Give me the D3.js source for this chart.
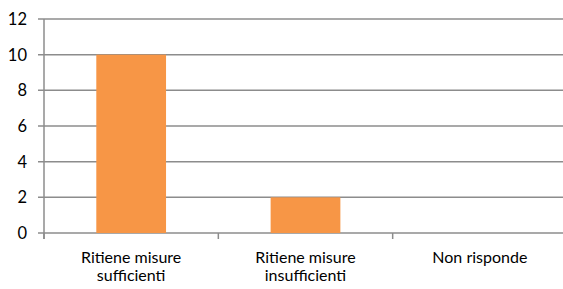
<!DOCTYPE html>
<html>
<head>
<meta charset="utf-8">
<script src="https://cdn.jsdelivr.net/npm/d3@7"></script>
<style>
  body { margin: 0; background: #fff; }
  svg text { font-family: Lato, sans-serif; fill: #000; }
</style>
</head>
<body>
<div id="chart"></div>
<script>
const categories = [["Ritiene misure", "sufficienti"], ["Ritiene misure", "insufficienti"], ["Non risponde"]];
const values = [10, 2, 0];
const yTicks = [0, 2, 4, 6, 8, 10, 12];

const width = 563, height = 289;
const margin = { top: 19, right: -4, bottom: 56, left: 44 };

const svg = d3.select("#chart").append("svg")
  .attr("width", width)
  .attr("height", height);

const x = d3.scaleBand()
  .domain(d3.range(categories.length))
  .range([margin.left, width - margin.right])
  .paddingInner(0.6)
  .paddingOuter(0.3);

const y = d3.scaleLinear()
  .domain([0, 12])
  .range([height - margin.bottom, margin.top]);

// gridlines
svg.append("g")
  .selectAll("line")
  .data(yTicks)
  .join("line")
  .attr("x1", margin.left - 6)
  .attr("x2", width)
  .attr("y1", d => y(d))
  .attr("y2", d => y(d))
  .attr("stroke", "#8c8c8c")
  .attr("stroke-width", 1.5);

// y labels
svg.append("g")
  .selectAll("text")
  .data(yTicks)
  .join("text")
  .attr("x", 27)
  .attr("y", d => y(d))
  .attr("dy", "0.36em")
  .attr("text-anchor", "end")
  .attr("font-size", 16.5)
  .text(d => d);

// bars
svg.append("g")
  .selectAll("rect")
  .data(values)
  .join("rect")
  .attr("x", (d, i) => x(i))
  .attr("width", x.bandwidth())
  .attr("y", d => y(d))
  .attr("height", d => y(0) - y(d))
  .attr("fill", "#f79646");

// y axis line
svg.append("line")
  .attr("x1", margin.left).attr("x2", margin.left)
  .attr("y1", y(12)).attr("y2", y(0) + 6)
  .attr("stroke", "#8c8c8c")
  .attr("stroke-width", 1.5);

// category ticks
const step = x.step();
const tickX = d3.range(categories.length + 1).map(i => margin.left + i * step);
svg.append("g")
  .selectAll("line")
  .data(tickX)
  .join("line")
  .attr("x1", d => d).attr("x2", d => d)
  .attr("y1", y(0)).attr("y2", y(0) + 6)
  .attr("stroke", "#8c8c8c")
  .attr("stroke-width", 1.5);

// category labels
const labels = svg.append("g")
  .selectAll("text")
  .data(categories)
  .join("text")
  .attr("x", (d, i) => x(i) + x.bandwidth() / 2)
  .attr("y", y(0) + 30)
  .attr("text-anchor", "middle")
  .attr("font-size", 16);

labels.selectAll("tspan")
  .data(d => d)
  .join("tspan")
  .attr("x", function () { return d3.select(this.parentNode).attr("x"); })
  .attr("dy", (d, i) => i === 0 ? 0 : 18)
  .text(d => d);
</script>
</body>
</html>
